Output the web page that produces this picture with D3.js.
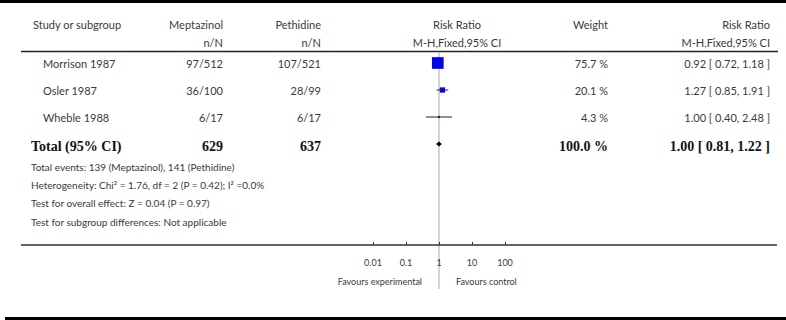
<!DOCTYPE html>
<html><head><meta charset="utf-8">
<script src="https://cdn.jsdelivr.net/npm/d3@7"></script>
<style>
html,body{margin:0;padding:0;background:#fff;}
svg{display:block;}
</style></head>
<body>
<script>
const studies = ["Morrison 1987", "Osler 1987", "Wheble 1988"];
const expEvents = [97, 36, 6];
const expTotals = [512, 100, 17];
const ctlEvents = [107, 28, 6];
const ctlTotals = [521, 99, 17];
const weights = [75.7, 20.1, 4.3];
const rr = [0.92, 1.27, 1.00];
const rrLow = [0.72, 0.85, 0.40];
const rrHigh = [1.18, 1.91, 2.48];
const totalN = [629, 637];
const totalWeight = 100.0;
const totalRR = [1.00, 0.81, 1.22];
const tickValues = [0.01, 0.1, 1, 10, 100];
const tickLabels = ["0.01", "0.1", "1", "10", "100"];
const footLines = [
  "Total events: 139 (Meptazinol), 141 (Pethidine)",
  "Heterogeneity: Chi\u00B2 = 1.76, df = 2 (P = 0.42); I\u00B2 =0.0%",
  "Test for overall effect: Z = 0.04 (P = 0.97)",
  "Test for subgroup differences: Not applicable"
];

const W = 786, H = 320;
const sans = "Lato, 'Open Sans', sans-serif";
const serif = "'Liberation Serif', 'DejaVu Serif', serif";
const txt = "#3a3a3a";

const svg = d3.select("body").append("svg").attr("width", W).attr("height", H);

// bands
svg.append("rect").attr("x", 0).attr("y", 0).attr("width", W).attr("height", 3).attr("fill", "#000");
svg.append("rect").attr("x", 5).attr("y", 317).attr("width", W - 5).attr("height", 3).attr("fill", "#000");

const x = d3.scaleLog().domain([0.01, 100]).range([373, 505]);
const size = d3.scalePow().exponent(0.6).domain([0, 75.7]).range([0, 11.7]);
const rowY = d3.scalePoint().domain(studies.concat(["Total"])).range([63, 144]);

const colStudy = 43, colExp = 223, colCtl = 321, colRR = 457, colW = 608, colCI = 770;

function t(xp, yp, s, anchor, opts = {}) {
  return svg.append("text").attr("x", xp).attr("y", yp).attr("dy", "0.35em")
    .attr("text-anchor", anchor).attr("font-family", opts.family || sans)
    .attr("font-size", opts.size || 11).attr("font-weight", opts.weight || "normal")
    .attr("fill", opts.fill || txt).text(s);
}

// header
t(33, 25, "Study or subgroup", "start");
t(colExp, 25, "Meptazinol", "end");
t(colExp, 43, "n/N", "end");
t(colCtl, 25, "Pethidine", "end");
t(colCtl, 43, "n/N", "end");
t(colRR, 25, "Risk Ratio", "middle");
t(colRR, 43, "M-H,Fixed,95% CI", "middle");
t(colW, 25, "Weight", "end");
t(colCI, 25, "Risk Ratio", "end");
t(colCI, 43, "M-H,Fixed,95% CI", "end");
svg.append("line").attr("x1", 21).attr("x2", 778).attr("y1", 51.5).attr("y2", 51.5)
  .attr("stroke", "#222").attr("stroke-width", 1.6);

// vertical line of no effect
svg.append("line").attr("x1", x(1)).attr("x2", x(1)).attr("y1", 52).attr("y2", 289)
  .attr("stroke", "#aaa").attr("stroke-width", 1);

const f2 = d3.format(".2f");
studies.forEach((s, i) => {
  const y = rowY(s);
  t(colStudy, y + 1, s, "start");
  t(colExp, y + 1, expEvents[i] + "/" + expTotals[i], "end");
  t(colCtl, y + 1, ctlEvents[i] + "/" + ctlTotals[i], "end");
  t(colW, y + 1, weights[i].toFixed(1) + " %", "end");
  t(colCI, y + 1, f2(rr[i]) + " [ " + f2(rrLow[i]) + ", " + f2(rrHigh[i]) + " ]", "end");
  const sz = size(weights[i]);
  svg.append("rect").attr("x", x(rr[i]) - sz / 2).attr("y", y - sz / 2)
    .attr("width", sz).attr("height", sz).attr("fill", "#0000ff");
  svg.append("line").attr("x1", x(rrLow[i])).attr("x2", x(rrHigh[i])).attr("y1", y).attr("y2", y)
    .attr("stroke", "#222").attr("stroke-width", 1);
});

// total row
const ty = rowY("Total");
const bold = { family: serif, size: 14, weight: "bold", fill: "#111" };
t(31, ty + 2, "Total (95% CI)", "start", bold);
t(colExp, ty + 2, totalN[0], "end", bold);
t(colCtl, ty + 2, totalN[1], "end", bold);
t(colW, ty + 2, totalWeight.toFixed(1) + " %", "end", bold);
t(colCI, ty + 2, f2(totalRR[0]) + " [ " + f2(totalRR[1]) + ", " + f2(totalRR[2]) + " ]", "end", bold);
const dh = 2.6;
svg.append("path").attr("d", d3.line()([[x(totalRR[1]), ty], [x(totalRR[0]), ty - dh], [x(totalRR[2]), ty], [x(totalRR[0]), ty + dh]]) + "Z")
  .attr("fill", "#000");

// footer
const footY = d3.scalePoint().domain(d3.range(footLines.length)).range([167, 222]);
footLines.forEach((s, i) => t(31, footY(i), s, "start", { size: 10 }));

// axis
svg.append("line").attr("x1", 21).attr("x2", 777).attr("y1", 245).attr("y2", 245)
  .attr("stroke", "#333").attr("stroke-width", 1.5);
const axis = d3.axisTop(x).tickValues(tickValues).tickSize(3).tickFormat("");
const ag = svg.append("g").attr("transform", "translate(0,245)").call(axis);
ag.select(".domain").remove();
ag.selectAll(".tick line").attr("stroke", "#333");
tickValues.forEach((v, i) => t(x(v), 263, tickLabels[i], "middle", { size: 9 }));
t(x(1) - 17, 282, "Favours experimental", "end", { size: 9 });
t(x(1) + 17, 282, "Favours control", "start", { size: 9 });
</script>
</body></html>
